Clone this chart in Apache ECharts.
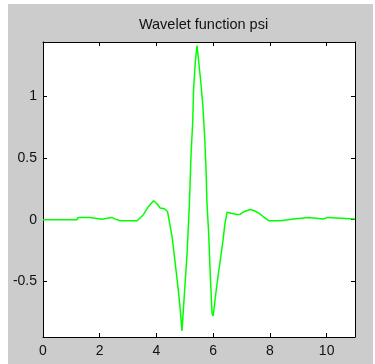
<!DOCTYPE html>
<html>
<head>
<meta charset="utf-8">
<script src="https://cdn.jsdelivr.net/npm/echarts@6/dist/echarts.min.js"></script>
<style>
  html, body { margin: 0; padding: 0; background: #ffffff; width: 375px; height: 364px; overflow: hidden; }
  #fig { position: absolute; left: 8px; top: 4px; width: 365px; height: 360px; background: #cccccc; }
</style>
</head>
<body>
<div id="fig"></div>
<script>
// Sampled wavelet function psi(x)
const xValues = [
  0, 1.19, 1.24, 1.66, 1.72, 2.07, 2.12, 2.43, 2.55, 2.72,
  3.32, 3.36, 3.54, 3.72, 3.90, 4.02, 4.13, 4.28, 4.39, 4.46,
  4.55, 4.66, 4.77, 4.84, 4.90, 4.98, 5.08, 5.16, 5.22, 5.28,
  5.31, 5.37, 5.43, 5.49, 5.57, 5.64, 5.70, 5.75, 5.78, 5.84,
  5.90, 5.96, 6.00, 6.08, 6.17, 6.25, 6.34, 6.41, 6.49, 6.55,
  6.67, 6.84, 6.96, 7.08, 7.31, 7.45, 7.61, 7.77, 7.96, 8.37,
  8.41, 8.84, 8.88, 9.37, 9.41, 9.89, 9.96, 10.04, 10.10, 11.0
];
const psiValues = [
  0, 0, 0.019, 0.019, 0.004, 0.004, 0.019, 0.019, 0.005, -0.008,
  -0.008, -0.013, 0.041, 0.108, 0.154, 0.130, 0.095, 0.089, 0.067, 0.054,
  -0.136, -0.35, -0.57, -0.73, -0.90, -0.62, -0.27, 0.12, 0.53, 0.80,
  1.06, 1.28, 1.41, 1.28, 1.10, 0.91, 0.67, 0.40, 0.14, -0.106,
  -0.46, -0.76, -0.78, -0.62, -0.46, -0.33, -0.18, -0.04, 0.061, 0.065,
  0.051, 0.043, 0.045, 0.065, 0.083, 0.073, 0.054, 0.024, -0.008, -0.008,
  0.006, 0.006, 0.019, 0.019, 0.006, 0.006, 0.019, 0.019, 0.006, 0.006
];
const xTicks = [0, 2, 4, 6, 8, 10];
const yTicks = [-0.5, 0, 0.5, 1];
const xRange = [0, 11];
const yRange = [-0.95, 1.44];
const titleText = 'Wavelet function psi';

const seriesData = xValues.map((x, i) => [x, psiValues[i]]);

const font = 'Arial, "Liberation Sans", sans-serif';
const frameLine = { show: true, onZero: false, lineStyle: { color: '#000', width: 1 } };

function xAxisDef(position, withLabels) {
  return {
    type: 'value', position: position, min: xRange[0], max: xRange[1],
    axisLine: frameLine,
    axisTick: { show: true, inside: true, length: 4, customValues: xTicks, lineStyle: { color: '#000' } },
    axisLabel: { show: withLabels, customValues: xTicks, margin: 7, color: '#111', fontSize: 14, fontFamily: font },
    splitLine: { show: false }
  };
}
function yAxisDef(position, withLabels) {
  return {
    type: 'value', position: position, min: yRange[0], max: yRange[1],
    axisLine: frameLine,
    axisTick: { show: true, inside: true, length: 4, customValues: yTicks, lineStyle: { color: '#000' } },
    axisLabel: { show: withLabels, customValues: yTicks, margin: 6, color: '#111', fontSize: 14, fontFamily: font },
    splitLine: { show: false }
  };
}

const chart = echarts.init(document.getElementById('fig'), null, { renderer: 'canvas' });
chart.setOption({
  backgroundColor: '#cccccc',
  animation: false,
  title: {
    text: titleText, left: 190.5, top: 8, textAlign: 'center',
    textStyle: { fontSize: 14.5, fontWeight: 'normal', color: '#111', fontFamily: font }
  },
  grid: { left: 35, right: 18, top: 38, bottom: 27, show: true, backgroundColor: '#ffffff', borderWidth: 0 },
  xAxis: [xAxisDef('bottom', true), xAxisDef('top', false)],
  yAxis: [yAxisDef('left', true), yAxisDef('right', false)],
  series: [{
    type: 'line', data: seriesData, xAxisIndex: 0, yAxisIndex: 0,
    showSymbol: false, symbol: 'none',
    lineStyle: { color: '#00ff00', width: 1.5 },
    clip: true
  }]
});
</script>
</body>
</html>
